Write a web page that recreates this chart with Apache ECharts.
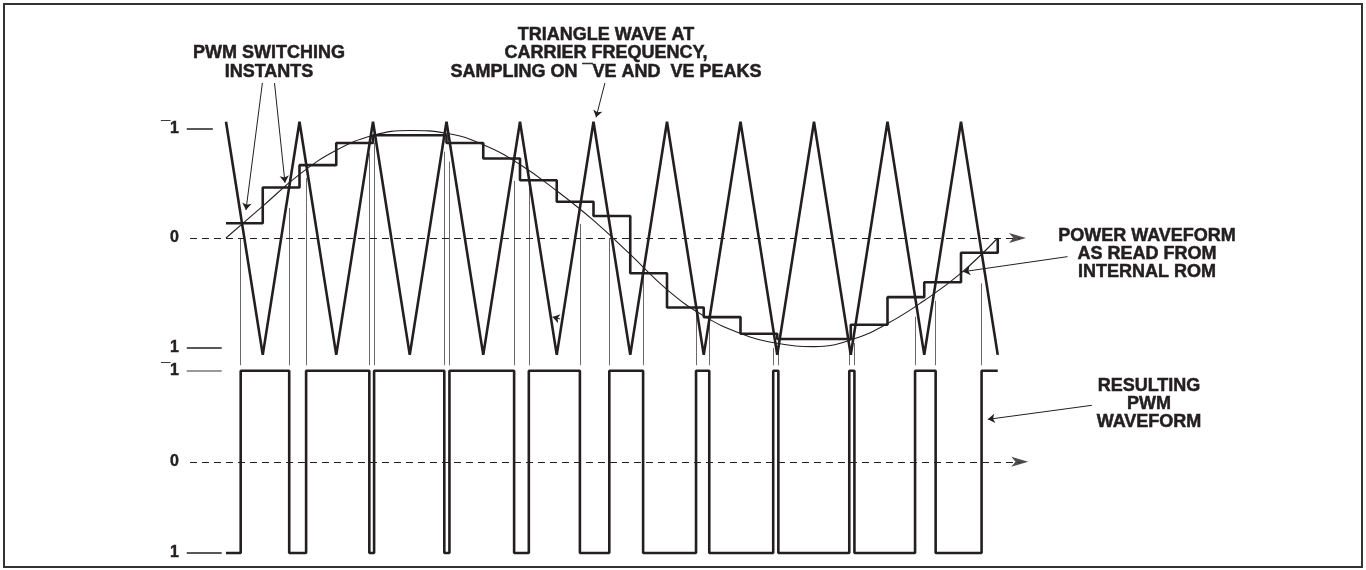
<!DOCTYPE html>
<html><head><meta charset="utf-8">
<script src="https://cdn.jsdelivr.net/npm/echarts@6/dist/echarts.min.js"></script>
<style>html,body{margin:0;padding:0;background:#fff}#c{width:1366px;height:570px}</style>
</head><body><div id="c"></div>
<script>
// x unit = half period of the carrier triangle wave
const triangleX = [0,1,2,3,4,5,6,7,8,9,10,11,12,13,14,15,16,17,18,19,20,21];
const triangleY = [1.06,-1.065,1.06,-1.065,1.06,-1.065,1.06,-1.065,1.06,-1.065,1.06,-1.065,1.06,-1.065,1.06,-1.065,1.06,-1.065,1.06,-1.065,1.06,-1.065];
const sineX = [0,1,2,3,4,5,6,7,8,9,10,11,12,13,14,15,16,17,18,19,20,21];
const sineY = [0,0.29,0.58,0.80,0.935,0.98,0.955,0.85,0.67,0.43,0.16,-0.15,-0.47,-0.71,-0.87,-0.96,-0.99,-0.93,-0.78,-0.57,-0.32,0];
const stepX = [0,1,2,3,4,5,6,7,8,9,10,11,12,13,14,15,16,17,18,19,20,21];
const stepY = [0.134,0.461,0.664,0.866,0.936,0.936,0.866,0.725,0.527,0.330,0.200,-0.321,-0.634,-0.721,-0.873,-0.921,-0.921,-0.791,-0.539,-0.403,-0.134,0];
const pwmX = [0,0.40,1.72,2.18,3.90,4.03,5.94,6.08,7.84,8.24,9.63,10.43,11.35,12.79,13.15,14.89,15.03,16.96,17.10,18.75,19.31,20.56,21];
const pwmY = [-1,1,-1,1,-1,1,-1,1,-1,1,-1,1,-1,1,-1,1,-1,1,-1,1,-1,1,1];
const switchX = [0.40,1.72,2.18,3.90,4.03,5.94,6.08,7.84,8.24,9.63,10.43,11.35,12.79,13.15,14.89,15.03,16.96,17.10,18.75,19.31,20.56];
const switchTop = [0.0,0.273,0.547,0.775,0.866,0.787,0.696,0.52,0.468,0.128,0,-0.292,-0.626,-0.732,-1.003,-0.957,-1.003,-0.957,-0.717,-0.572,-0.413];
const switchBottom = -1.16;
const topTickLabels = {'1':'\u00AF1','0':'0','-1':'1'};
const bottomTickLabels = {'1':'\u00AF1','0':'0','-1':'1'};

const INK = '#231f20';
const FONT = '"Liberation Sans", Arial, sans-serif';

const zip = (xs, ys) => xs.map((x, i) => [x, ys[i]]);

const chart = echarts.init(document.getElementById('c'));
const axisY = (grid, labels) => ({
  gridIndex: grid, type: 'value', min: -1, max: 1, interval: 1,
  axisLine: {show: false}, axisTick: {show: false}, splitLine: {show: false},
  axisLabel: {margin: 3, color: INK, fontSize: 16, fontWeight: 'bold', fontFamily: FONT,
    textBorderColor: INK, textBorderWidth: 0.4,
    formatter: v => labels[String(v)]}
});
const axisX = grid => ({gridIndex: grid, type: 'value', min: -1.2, max: 24, show: false});

const thick = {color: INK, width: 2.6};
const base = (g) => ({xAxisIndex: g, yAxisIndex: g, silent: true, animation: false});
const textStyle = (lh) => ({align: 'center', verticalAlign: 'middle', font: 'bold 18px ' + FONT,
  lineHeight: lh, fill: INK, stroke: INK, lineWidth: 0.5});

chart.setOption({
  animation: false,
  grid: [
    {left: 181.9, width: 926.1, top: 128.3, height: 219.4},
    {left: 181.9, width: 926.1, top: 370.7, height: 182.3}
  ],
  xAxis: [axisX(0), axisX(1)],
  yAxis: [axisY(0, topTickLabels), axisY(1, bottomTickLabels)],
  series: [
    // --- top panel ---
    Object.assign(base(0), {type: 'lines', coordinateSystem: 'cartesian2d', clip: false,
      lineStyle: {color: '#6a6a6a', width: 1, opacity: 1},
      data: switchX.map((x, i) => ({coords: [[x, switchTop[i]], [x, switchBottom]]}))}),
    Object.assign(base(0), {type: 'lines', coordinateSystem: 'cartesian2d', clip: false,
      lineStyle: {color: INK, width: 1, type: [7, 5], opacity: 1},
      data: [{coords: [[-0.98, 0], [21.6, 0]]}]}),
    Object.assign(base(0), {type: 'scatter', clip: false, symbol: 'arrow', symbolSize: [7.5, 17], symbolRotate: -90,
      itemStyle: {color: INK}, data: [[21.77, 0]]}),
    Object.assign(base(0), {type: 'line', clip: false, showSymbol: false, smooth: 0.45,
      lineStyle: {color: INK, width: 1.1}, data: zip(sineX, sineY)}),
    Object.assign(base(0), {type: 'line', clip: false, showSymbol: false, step: 'end',
      lineStyle: thick, data: zip(stepX, stepY)}),
    Object.assign(base(0), {type: 'line', clip: false, showSymbol: false,
      lineStyle: thick, data: zip(triangleX, triangleY)}),
    Object.assign(base(0), {type: 'lines', coordinateSystem: 'cartesian2d', clip: false,
      lineStyle: {color: INK, width: 1.5, opacity: 1},
      data: [{coords: [[-1.068, 1], [-0.36, 1]]}, {coords: [[-1.068, -1], [-0.117, -1]]}]}),
    Object.assign(base(0), {type: 'lines', coordinateSystem: 'cartesian2d', clip: false,
      symbol: ['none', 'arrow'], symbolSize: 7,
      lineStyle: {color: INK, width: 1, opacity: 1},
      data: [
        {coords: [[0.99, 1.413], [0.544, 0.255]]},
        {coords: [[1.32, 1.413], [1.605, 0.504]]},
        {coords: [[10.31, 1.413], [10.07, 1.10]]},
        {coords: [[22.9, -0.17], [20.06, -0.307]]},
        {coords: [[9.09, -0.738], [8.885, -0.72]]}
      ]}),
    // --- bottom panel ---
    Object.assign(base(1), {type: 'lines', coordinateSystem: 'cartesian2d', clip: false,
      lineStyle: {color: INK, width: 1, type: [7, 5], opacity: 1},
      data: [{coords: [[-0.98, 0], [21.6, 0]]}]}),
    Object.assign(base(1), {type: 'scatter', clip: false, symbol: 'arrow', symbolSize: [7.5, 17], symbolRotate: -90,
      itemStyle: {color: INK}, data: [[21.83, 0]]}),
    Object.assign(base(1), {type: 'line', clip: false, showSymbol: false, step: 'end',
      lineStyle: thick, data: zip(pwmX, pwmY)}),
    Object.assign(base(1), {type: 'lines', coordinateSystem: 'cartesian2d', clip: false,
      lineStyle: {width: 1.5, opacity: 1},
      data: [
        {coords: [[-1.068, 1], [-0.117, 1]], lineStyle: {color: '#777'}},
        {coords: [[-1.068, -1], [-0.117, -1]], lineStyle: {color: INK}}
      ]}),
    Object.assign(base(1), {type: 'lines', coordinateSystem: 'cartesian2d', clip: false,
      symbol: ['none', 'arrow'], symbolSize: 7,
      lineStyle: {color: INK, width: 1, opacity: 1},
      data: [{coords: [[23.56, 0.62], [20.73, 0.466]]}]})
  ],
  graphic: [
    {type: 'rect', shape: {x: 4, y: 4, width: 1358, height: 563}, style: {fill: 'none', stroke: '#333', lineWidth: 2}, silent: true},
    {type: 'text', x: 269, y: 62.5, style: Object.assign({text: 'PWM SWITCHING\nINSTANTS'}, textStyle(18.4))},
    {type: 'text', x: 606, y: 53.5, style: Object.assign({text: 'TRIANGLE WAVE AT\nCARRIER FREQUENCY,\nSAMPLING ON \u00AFVE AND  VE PEAKS'}, textStyle(18.4))},
    {type: 'text', x: 1147, y: 254, style: Object.assign({text: 'POWER WAVEFORM\nAS READ FROM\nINTERNAL ROM'}, textStyle(17.6))},
    {type: 'text', x: 1149, y: 404, style: Object.assign({text: 'RESULTING\nPWM\nWAVEFORM'}, textStyle(17.8))}
  ]
});
</script></body></html>
